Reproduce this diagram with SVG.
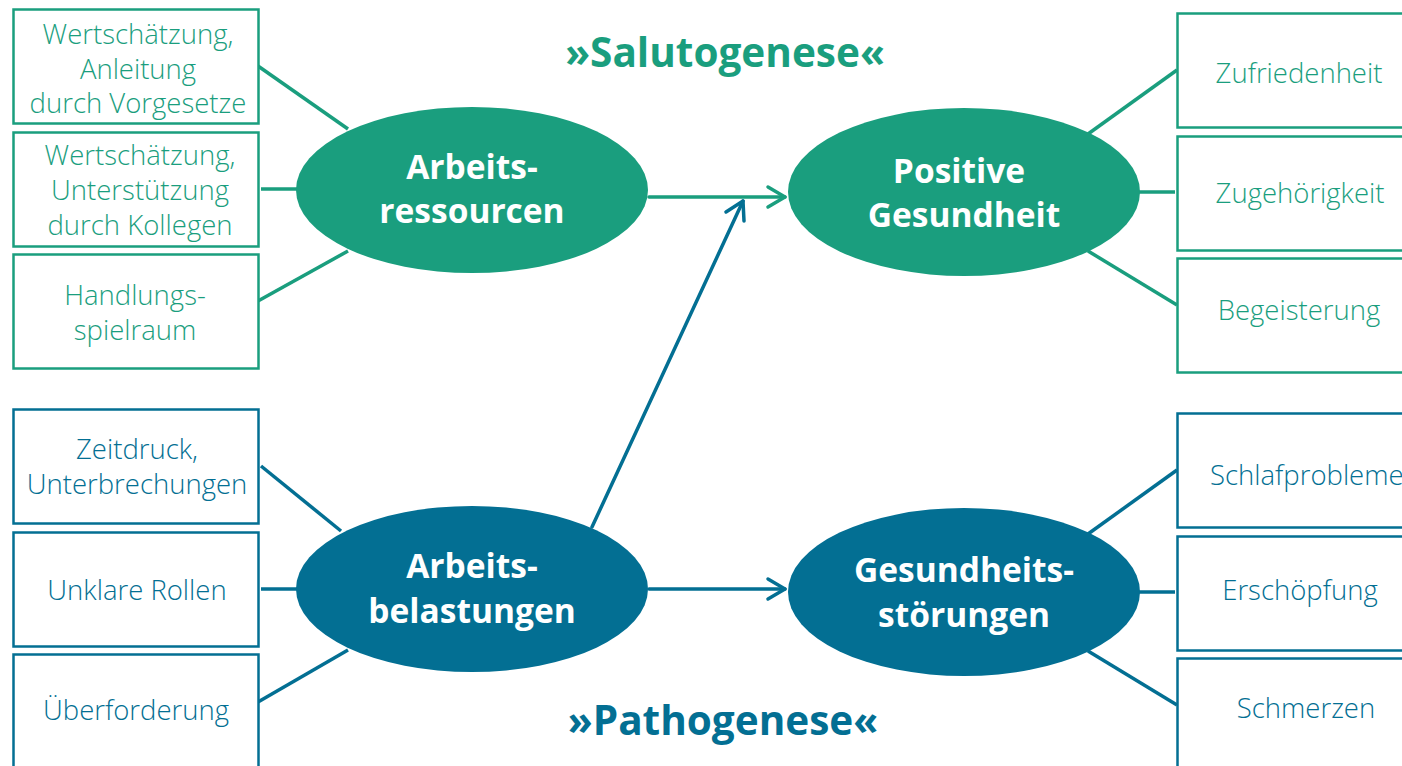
<svg xmlns="http://www.w3.org/2000/svg" width="1402" height="766" viewBox="0 0 1402 766">
  <defs>
    <style>
      .g { stroke: #1a9e7e; }
      .b { stroke: #036f93; }
      .box { fill: #fff; stroke-width: 2.5; }
      .lnk { stroke-width: 3.5; fill: none; }
      .arr { stroke-width: 3.5; fill: none; stroke-linecap: round; stroke-linejoin: round; }
      .txt { font-family: "Open Sans", "Noto Sans", "Liberation Sans", sans-serif; font-size: 27.5px; font-weight: 300; text-anchor: middle; }
      .tg { fill: #1a9e7e; }
      .tb { fill: #036f93; }
      .ell { font-family: "Open Sans", "Noto Sans", "Liberation Sans", sans-serif; font-size: 33.5px; font-weight: 700; fill: #fff; text-anchor: middle; }
      .head { font-family: "Open Sans", "Noto Sans", "Liberation Sans", sans-serif; font-size: 40.5px; font-weight: 700; text-anchor: middle; }
    </style>
  </defs>

  <!-- headings -->
  <text class="head tg" x="725" y="67">»Salutogenese«</text>
  <text class="head tb" x="723" y="735">»Pathogenese«</text>

  <!-- connectors -->
  <g id="connectors">
    <line class="lnk g" x1="258" y1="66" x2="348" y2="129"/>
    <line class="lnk g" x1="261" y1="189" x2="298" y2="189"/>
    <line class="lnk g" x1="258" y1="301" x2="348" y2="251"/>
    <line class="lnk g" x1="1088" y1="134" x2="1177" y2="70"/>
    <line class="lnk g" x1="1138" y1="192" x2="1175" y2="192"/>
    <line class="lnk g" x1="1088" y1="251" x2="1177" y2="305"/>

    <line class="lnk b" x1="261" y1="466" x2="341" y2="531"/>
    <line class="lnk b" x1="261" y1="589" x2="298" y2="589"/>
    <line class="lnk b" x1="258" y1="702" x2="348" y2="650"/>
    <line class="lnk b" x1="1088" y1="534" x2="1177" y2="470"/>
    <line class="lnk b" x1="1138" y1="592" x2="1175" y2="592"/>
    <line class="lnk b" x1="1088" y1="651" x2="1177" y2="705"/>

    <!-- arrows -->
    <g class="arr g">
      <line x1="649" y1="197" x2="785" y2="197"/>
      <polyline points="768,187 785,197 768,207"/>
    </g>
    <g class="arr b">
      <line x1="649" y1="589" x2="785" y2="589"/>
      <polyline points="768,579 785,589 768,599"/>
    </g>
    <g class="arr b">
      <line x1="592" y1="527" x2="743" y2="201"/>
      <polyline points="726,212 743,201 744,221"/>
    </g>
  </g>

  <!-- left resource boxes -->
  <g id="n-vorgesetzte">
    <rect class="box g" x="13.5" y="9.5" width="245" height="114"/>
    <text class="txt tg" x="138" y="44">Wertschätzung,</text>
    <text class="txt tg" x="138" y="79">Anleitung</text>
    <text class="txt tg" x="138" y="113">durch Vorgesetze</text>
  </g>
  <g id="n-kollegen">
    <rect class="box g" x="13.5" y="132.5" width="245" height="114"/>
    <text class="txt tg" x="140" y="165">Wertschätzung,</text>
    <text class="txt tg" x="140" y="200">Unterstützung</text>
    <text class="txt tg" x="140" y="235">durch Kollegen</text>
  </g>
  <g id="n-handlung">
    <rect class="box g" x="13.5" y="254.5" width="245" height="114"/>
    <text class="txt tg" x="135" y="305">Handlungs-</text>
    <text class="txt tg" x="135" y="340">spielraum</text>
  </g>

  <!-- left strain boxes -->
  <g id="n-zeitdruck">
    <rect class="box b" x="13.5" y="409.5" width="245" height="114"/>
    <text class="txt tb" x="137" y="459">Zeitdruck,</text>
    <text class="txt tb" x="137" y="494">Unterbrechungen</text>
  </g>
  <g id="n-rollen">
    <rect class="box b" x="13.5" y="532.5" width="245" height="114"/>
    <text class="txt tb" x="137" y="600">Unklare Rollen</text>
  </g>
  <g id="n-ueberforderung">
    <rect class="box b" x="13.5" y="654.5" width="245" height="130"/>
    <text class="txt tb" x="136" y="720">Überforderung</text>
  </g>

  <!-- right outcome boxes -->
  <g id="n-zufriedenheit">
    <rect class="box g" x="1177.5" y="13.5" width="240" height="114"/>
    <text class="txt tg" x="1299" y="83">Zufriedenheit</text>
  </g>
  <g id="n-zugehoerigkeit">
    <rect class="box g" x="1177.5" y="136.5" width="240" height="114"/>
    <text class="txt tg" x="1300" y="203">Zugehörigkeit</text>
  </g>
  <g id="n-begeisterung">
    <rect class="box g" x="1177.5" y="258.5" width="240" height="114"/>
    <text class="txt tg" x="1299" y="320">Begeisterung</text>
  </g>
  <g id="n-schlaf">
    <rect class="box b" x="1177.5" y="413.5" width="240" height="114"/>
    <text class="txt tb" x="1210" y="485" style="text-anchor:start">Schlafprobleme</text>
  </g>
  <g id="n-erschoepfung">
    <rect class="box b" x="1177.5" y="536.5" width="240" height="114"/>
    <text class="txt tb" x="1300" y="600">Erschöpfung</text>
  </g>
  <g id="n-schmerzen">
    <rect class="box b" x="1177.5" y="658.5" width="240" height="130"/>
    <text class="txt tb" x="1306" y="718">Schmerzen</text>
  </g>

  <!-- central ellipses -->
  <g id="n-ressourcen">
    <ellipse cx="472" cy="190" rx="176" ry="83" fill="#1a9e7e"/>
    <text class="ell" x="472" y="179">Arbeits-</text>
    <text class="ell" x="472" y="223">ressourcen</text>
  </g>
  <g id="n-positiv">
    <ellipse cx="964" cy="192" rx="176" ry="84" fill="#1a9e7e"/>
    <text class="ell" x="959" y="183">Positive</text>
    <text class="ell" x="964" y="227">Gesundheit</text>
  </g>
  <g id="n-belastungen">
    <ellipse cx="472" cy="589" rx="176" ry="83" fill="#036f93"/>
    <text class="ell" x="472" y="578">Arbeits-</text>
    <text class="ell" x="472" y="623">belastungen</text>
  </g>
  <g id="n-stoerungen">
    <ellipse cx="964" cy="592" rx="176" ry="84" fill="#036f93"/>
    <text class="ell" x="964" y="582">Gesundheits-</text>
    <text class="ell" x="964" y="627">störungen</text>
  </g>
</svg>
